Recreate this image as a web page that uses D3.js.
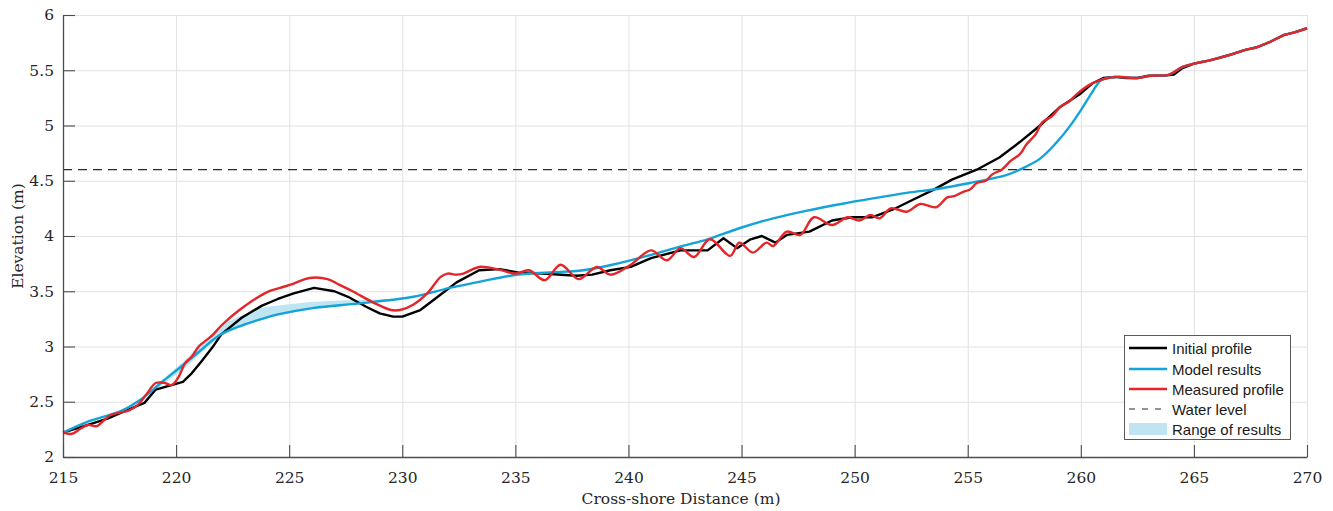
<!DOCTYPE html>
<html>
<head>
<meta charset="utf-8">
<script src="https://cdn.jsdelivr.net/npm/d3@7"></script>
<style>
  html, body { margin: 0; padding: 0; background: #fff; }
  svg { display: block; }
</style>
</head>
<body>
<svg id="chart" width="1333" height="511"></svg>
<script>
// Cross-shore distance (m) and elevation (m) for each profile
const initialX = [215, 216.1, 217, 217.9, 218.6, 219.1, 219.6, 220.3, 220.7, 221.1, 221.6, 222, 222.9, 223.8, 224.5, 225.2, 226.1, 227, 227.6, 228.4, 229, 229.6, 230, 230.8, 231.7, 232.4, 233.4, 234.3, 235.1, 236.2, 237.7, 238.4, 239.2, 240.1, 241, 242.3, 243.5, 244.2, 244.8, 245.4, 245.9, 246.5, 247, 248, 249, 249.9, 250.8, 251.7, 252.6, 253.5, 254.3, 255.4, 256.4, 257.3, 258.2, 259.1, 260, 260.5, 261, 261.5, 262, 262.5, 263, 263.6, 264.1, 264.5, 265, 265.7, 266.6, 267.2, 267.8, 268.4, 269, 269.4, 270];
const initialZ = [2.22, 2.29, 2.35, 2.43, 2.49, 2.61, 2.64, 2.68, 2.76, 2.86, 2.99, 3.11, 3.26, 3.37, 3.43, 3.48, 3.53, 3.50, 3.45, 3.36, 3.30, 3.27, 3.27, 3.33, 3.47, 3.58, 3.69, 3.70, 3.67, 3.66, 3.64, 3.65, 3.69, 3.72, 3.80, 3.87, 3.87, 3.98, 3.89, 3.97, 4.00, 3.94, 4.01, 4.04, 4.14, 4.17, 4.17, 4.24, 4.33, 4.42, 4.51, 4.60, 4.71, 4.85, 5.00, 5.17, 5.29, 5.38, 5.43, 5.44, 5.43, 5.43, 5.45, 5.45, 5.46, 5.52, 5.56, 5.59, 5.64, 5.68, 5.71, 5.76, 5.82, 5.84, 5.88];

const modelX = [215, 216.1, 217.6, 218.5, 219.5, 220.3, 221, 221.9, 222.9, 223.8, 224.5, 226.1, 228.1, 230.5, 232.1, 233.5, 235.1, 236.5, 238, 239.5, 241, 242.4, 243.5, 244.9, 246.4, 247.9, 249.4, 250.8, 252.3, 253.8, 255.1, 256.7, 257.4, 258.2, 258.9, 259.5, 260.1, 260.5, 260.9, 261.6, 262.5, 263.1, 263.9, 264.5, 265, 265.7, 266.6, 267.2, 267.8, 268.4, 269, 269.4, 270];
const modelZ = [2.22, 2.32, 2.42, 2.53, 2.70, 2.83, 2.95, 3.10, 3.19, 3.25, 3.29, 3.35, 3.39, 3.45, 3.53, 3.59, 3.65, 3.67, 3.69, 3.75, 3.83, 3.91, 3.97, 4.07, 4.16, 4.23, 4.29, 4.34, 4.39, 4.43, 4.48, 4.55, 4.61, 4.70, 4.84, 4.99, 5.17, 5.30, 5.41, 5.44, 5.43, 5.45, 5.46, 5.53, 5.56, 5.59, 5.64, 5.68, 5.71, 5.76, 5.82, 5.84, 5.88];

const measuredX = [215, 215.4, 215.8, 216.1, 216.5, 216.8, 217.1, 217.5, 217.9, 218.3, 218.7, 219.1, 219.5, 219.8, 220.1, 220.4, 220.7, 221, 221.6, 222, 222.8, 224, 224.6, 225.2, 225.9, 226.7, 227.2, 227.8, 228.7, 229.5, 229.9, 230.5, 231.1, 231.7, 232, 232.4, 232.7, 233.4, 234.2, 235, 235.6, 236.3, 237, 237.8, 238.6, 239.2, 240.1, 241, 241.7, 242.3, 242.9, 243.6, 244.5, 244.9, 245.5, 246.1, 246.4, 247, 247.6, 248.2, 249, 249.7, 250.2, 250.7, 251.1, 251.6, 252.3, 252.9, 253.6, 254.1, 254.4, 254.8, 255.1, 255.4, 255.8, 256.1, 256.5, 256.9, 257.3, 257.6, 258, 258.3, 258.7, 259.1, 259.5, 259.8, 260.4, 261, 261.6, 262.5, 263.1, 263.9, 264.5, 265, 265.7, 266.6, 267.2, 267.8, 268.4, 269, 269.4, 270];
const measuredZ = [2.22, 2.21, 2.26, 2.29, 2.28, 2.33, 2.38, 2.40, 2.42, 2.47, 2.57, 2.67, 2.67, 2.65, 2.72, 2.85, 2.91, 3.00, 3.10, 3.19, 3.33, 3.49, 3.53, 3.57, 3.62, 3.61, 3.56, 3.50, 3.40, 3.33, 3.33, 3.38, 3.48, 3.63, 3.66, 3.65, 3.66, 3.72, 3.70, 3.66, 3.69, 3.60, 3.74, 3.61, 3.72, 3.65, 3.74, 3.87, 3.78, 3.89, 3.81, 3.97, 3.82, 3.94, 3.85, 3.94, 3.91, 4.04, 4.01, 4.17, 4.10, 4.17, 4.14, 4.19, 4.16, 4.25, 4.22, 4.29, 4.26, 4.35, 4.36, 4.40, 4.42, 4.48, 4.50, 4.56, 4.60, 4.68, 4.74, 4.83, 4.92, 5.03, 5.08, 5.17, 5.22, 5.28, 5.37, 5.42, 5.44, 5.43, 5.45, 5.46, 5.53, 5.56, 5.59, 5.64, 5.68, 5.71, 5.76, 5.82, 5.84, 5.88];

// Spread of the model runs, where it is wider than the line itself
const rangeX = [218.5, 219.5, 220.3, 221, 221.9, 222.9, 223.8, 224.5, 225.3, 226.1, 227, 228.1, 229, 230];
const rangeLow = [2.52, 2.67, 2.79, 2.92, 3.08, 3.18, 3.24, 3.28, 3.31, 3.34, 3.36, 3.385, 3.405, 3.43];
const rangeHigh = [2.54, 2.72, 2.86, 3.00, 3.17, 3.28, 3.35, 3.37, 3.39, 3.405, 3.415, 3.42, 3.425, 3.43];

const waterLevel = 4.6;

const xTicks = [215, 220, 225, 230, 235, 240, 245, 250, 255, 260, 265, 270];
const yTicks = [2, 2.5, 3, 3.5, 4, 4.5, 5, 5.5, 6];

const legendLabels = ["Initial profile", "Model results", "Measured profile", "Water level", "Range of results"];

const COLORS = { initial: "#000000", model: "#12a4d8", measured: "#e3262a", water: "#2b2b2b", range: "#bfe5f3" };
const SERIF = "'DejaVu Serif', serif";

const svg = d3.select("#chart");
const plotLeft = 63, plotRight = 1307, plotTop = 15, plotBottom = 457;

const x = d3.scaleLinear().domain([215, 270]).range([plotLeft, plotRight]);
const y = d3.scaleLinear().domain([2, 6]).range([plotBottom, plotTop]);

// grid
const grid = svg.append("g");
grid.selectAll("line.gx").data(xTicks).join("line")
  .attr("x1", d => x(d) + 0.5).attr("x2", d => x(d) + 0.5)
  .attr("y1", plotTop).attr("y2", plotBottom)
  .attr("stroke", "#e2e2e2").attr("stroke-width", 1);
grid.selectAll("line.gy").data(yTicks).join("line")
  .attr("x1", plotLeft).attr("x2", plotRight)
  .attr("y1", d => y(d) + 0.5).attr("y2", d => y(d) + 0.5)
  .attr("stroke", "#e2e2e2").attr("stroke-width", 1);

// range band
const pts = rangeX.map((d, i) => ({ x: d, lo: rangeLow[i], hi: rangeHigh[i] }));
svg.append("path").datum(pts)
  .attr("fill", COLORS.range)
  .attr("d", d3.area().x(d => x(d.x)).y0(d => y(d.lo)).y1(d => y(d.hi)).curve(d3.curveMonotoneX));

// water level
svg.append("line")
  .attr("x1", plotLeft).attr("x2", plotRight)
  .attr("y1", y(waterLevel)).attr("y2", y(waterLevel))
  .attr("stroke", COLORS.water).attr("stroke-width", 1.2)
  .attr("stroke-dasharray", "9,6");

function series(xs, zs) { return xs.map((d, i) => [d, zs[i]]); }

const lineLinear = d3.line().x(d => x(d[0])).y(d => y(d[1]));
const lineSmooth = d3.line().x(d => x(d[0])).y(d => y(d[1])).curve(d3.curveCatmullRom.alpha(0.5));

svg.append("path").datum(series(initialX, initialZ))
  .attr("fill", "none").attr("stroke", COLORS.initial).attr("stroke-width", 2.4)
  .attr("stroke-linejoin", "round").attr("d", lineLinear);

svg.append("path").datum(series(modelX, modelZ))
  .attr("fill", "none").attr("stroke", COLORS.model).attr("stroke-width", 2.4)
  .attr("stroke-linejoin", "round").attr("d", lineSmooth);

svg.append("path").datum(series(measuredX, measuredZ))
  .attr("fill", "none").attr("stroke", COLORS.measured).attr("stroke-width", 2.4)
  .attr("stroke-linejoin", "round").attr("d", lineSmooth);

// axes
const axisColor = "#4d4d4d";
const xAxis = svg.append("g").attr("transform", `translate(0,${plotBottom})`)
  .call(d3.axisBottom(x).tickValues(xTicks).tickSizeInner(-12).tickSizeOuter(0).tickPadding(15).tickFormat(d3.format("d")));
const yAxis = svg.append("g").attr("transform", `translate(${plotLeft},0)`)
  .call(d3.axisLeft(y).tickValues(yTicks).tickSizeInner(-12).tickSizeOuter(0).tickPadding(9).tickFormat(d => d3.format("")(d)));
[xAxis, yAxis].forEach(g => {
  g.select(".domain").attr("stroke", axisColor).attr("stroke-width", 1.3);
  g.selectAll(".tick line").attr("stroke", axisColor).attr("stroke-width", 1.1);
  g.selectAll(".tick text").attr("fill", "#262626")
    .style("font-family", SERIF).style("font-size", "15.5px");
});

svg.append("text")
  .attr("x", 681).attr("y", 504)
  .attr("text-anchor", "middle").attr("fill", "#262626")
  .style("font-family", SERIF).style("font-size", "15.5px")
  .text("Cross-shore Distance (m)");

svg.append("text")
  .attr("transform", `translate(23,236) rotate(-90)`)
  .attr("text-anchor", "middle").attr("fill", "#262626")
  .style("font-family", SERIF).style("font-size", "15.5px")
  .text("Elevation (m)");

// legend
const lg = svg.append("g").attr("transform", "translate(1124,335)");
lg.append("rect").attr("x", 0.5).attr("y", 0.5).attr("width", 166).attr("height", 104)
  .attr("fill", "#fff").attr("stroke", "#5a5a5a").attr("stroke-width", 1);
const rowY = [13, 34, 54, 74, 94];
const styles = [
  { kind: "line", color: COLORS.initial },
  { kind: "line", color: COLORS.model },
  { kind: "line", color: COLORS.measured },
  { kind: "dash", color: COLORS.water },
  { kind: "patch", color: COLORS.range }
];
legendLabels.forEach((label, i) => {
  const s = styles[i], cy = rowY[i];
  if (s.kind === "patch") {
    lg.append("rect").attr("x", 5).attr("y", cy - 6).attr("width", 38).attr("height", 12).attr("fill", s.color);
  } else {
    lg.append("line").attr("x1", 5).attr("x2", 43).attr("y1", cy).attr("y2", cy)
      .attr("stroke", s.color)
      .attr("stroke-width", s.kind === "dash" ? 1.1 : 2.4)
      .attr("stroke-dasharray", s.kind === "dash" ? "6,7" : null);
  }
  lg.append("text").attr("x", 48).attr("y", cy + 5.5)
    .attr("fill", "#1a1a1a")
    .style("font-family", "'Liberation Sans', Arial, sans-serif").style("font-size", "15px")
    .text(label);
});
</script>
</body>
</html>
